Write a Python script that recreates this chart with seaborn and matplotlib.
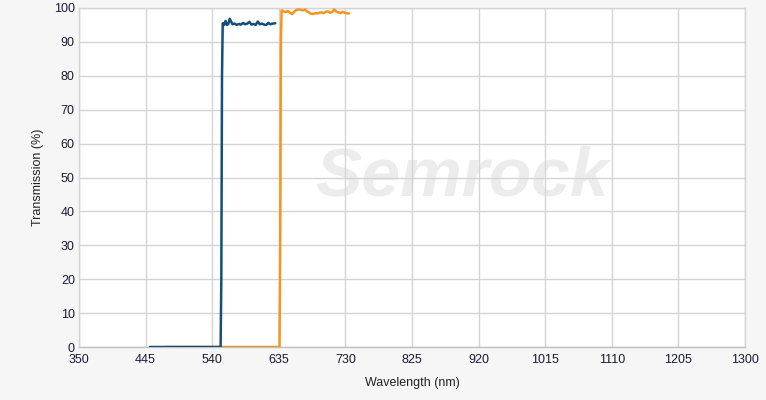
import numpy as np
import pandas as pd
import seaborn as sns
import matplotlib.pyplot as plt

# Excitation filter (blue) and emission filter (orange) transmission curves
blue_nm = [451, 552, 553, 554, 555, 557, 559, 561, 563, 565, 567, 569, 572, 575,
           578, 581, 584, 587, 590, 593, 596, 599, 602, 605, 608, 611, 614, 617,
           620, 623, 626, 630]
blue_t = [0, 0, 20, 80, 95.5, 95.0, 96.2, 95.0, 95.3, 96.8, 96.0, 95.2, 95.4, 95.0,
          95.3, 95.1, 95.6, 95.2, 95.4, 95.9, 95.1, 95.3, 95.0, 96.0, 95.2, 95.4,
          95.1, 95.0, 95.6, 95.2, 95.4, 95.5]
orange_nm = [475, 636, 637, 638, 639, 642, 645, 648, 651, 654, 657, 660, 663, 666,
             669, 672, 675, 678, 681, 684, 687, 690, 693, 696, 699, 702, 705, 708,
             711, 714, 717, 720, 723, 726, 729, 732, 735]
orange_t = [0, 0, 30, 90, 99.3, 99.0, 98.8, 99.1, 98.6, 98.2, 98.9, 99.4, 99.6, 99.5,
            99.3, 99.6, 99.0, 98.7, 98.3, 98.2, 98.5, 98.4, 98.6, 98.7, 98.5, 98.9,
            99.0, 98.6, 98.8, 99.6, 98.9, 98.7, 98.5, 98.9, 98.6, 98.4, 98.4]

x_ticks = [350, 445, 540, 635, 730, 825, 920, 1015, 1110, 1205, 1300]
y_ticks = [0, 10, 20, 30, 40, 50, 60, 70, 80, 90, 100]

sns.set_style("white")
plt.rcParams['font.family'] = ['Liberation Sans', 'DejaVu Sans']

fig = plt.figure(figsize=(7.66, 4.0), dpi=100)
fig.patch.set_facecolor('#f6f6f6')
ax = fig.add_axes([79 / 766, 53 / 400, 666 / 766, 339 / 400])
ax.set_facecolor('white')

df_blue = pd.DataFrame({'nm': blue_nm, 't': blue_t})
df_orange = pd.DataFrame({'nm': orange_nm, 't': orange_t})
sns.lineplot(data=df_orange, x='nm', y='t', ax=ax, color='#f7941d', lw=1.8, sort=False, zorder=3)
sns.lineplot(data=df_blue, x='nm', y='t', ax=ax, color='#124f7d', lw=1.8, sort=False, zorder=4)

# faint logo watermark, sits under the grid
ax.text(0.575, 0.5, 'Semrock', transform=ax.transAxes, fontsize=50, fontweight='bold',
        style='italic', color='#ececec', ha='center', va='center', zorder=0.1)

ax.set_xlim(350, 1300)
ax.set_ylim(0, 100)
ax.set_xticks(x_ticks)
ax.set_yticks(y_ticks)
ax.grid(True, color='#d4d4d4', lw=1)
ax.set_axisbelow(True)
for s in ax.spines.values():
    s.set_color('#d4d4d4')
    s.set_linewidth(1)
ax.spines['bottom'].set_color('#c0c0c0')
ax.tick_params(axis='both', length=0, labelsize=9, colors='#1a1a33')
ax.tick_params(axis='x', pad=5)
ax.tick_params(axis='y', pad=3)
ax.set_xlabel('Wavelength (nm)', fontsize=9, color='#222222', labelpad=8)
ax.set_ylabel('Transmission (%)', fontsize=9, color='#222222', labelpad=7)

fig.savefig('out.png', dpi=100, facecolor=fig.get_facecolor())
